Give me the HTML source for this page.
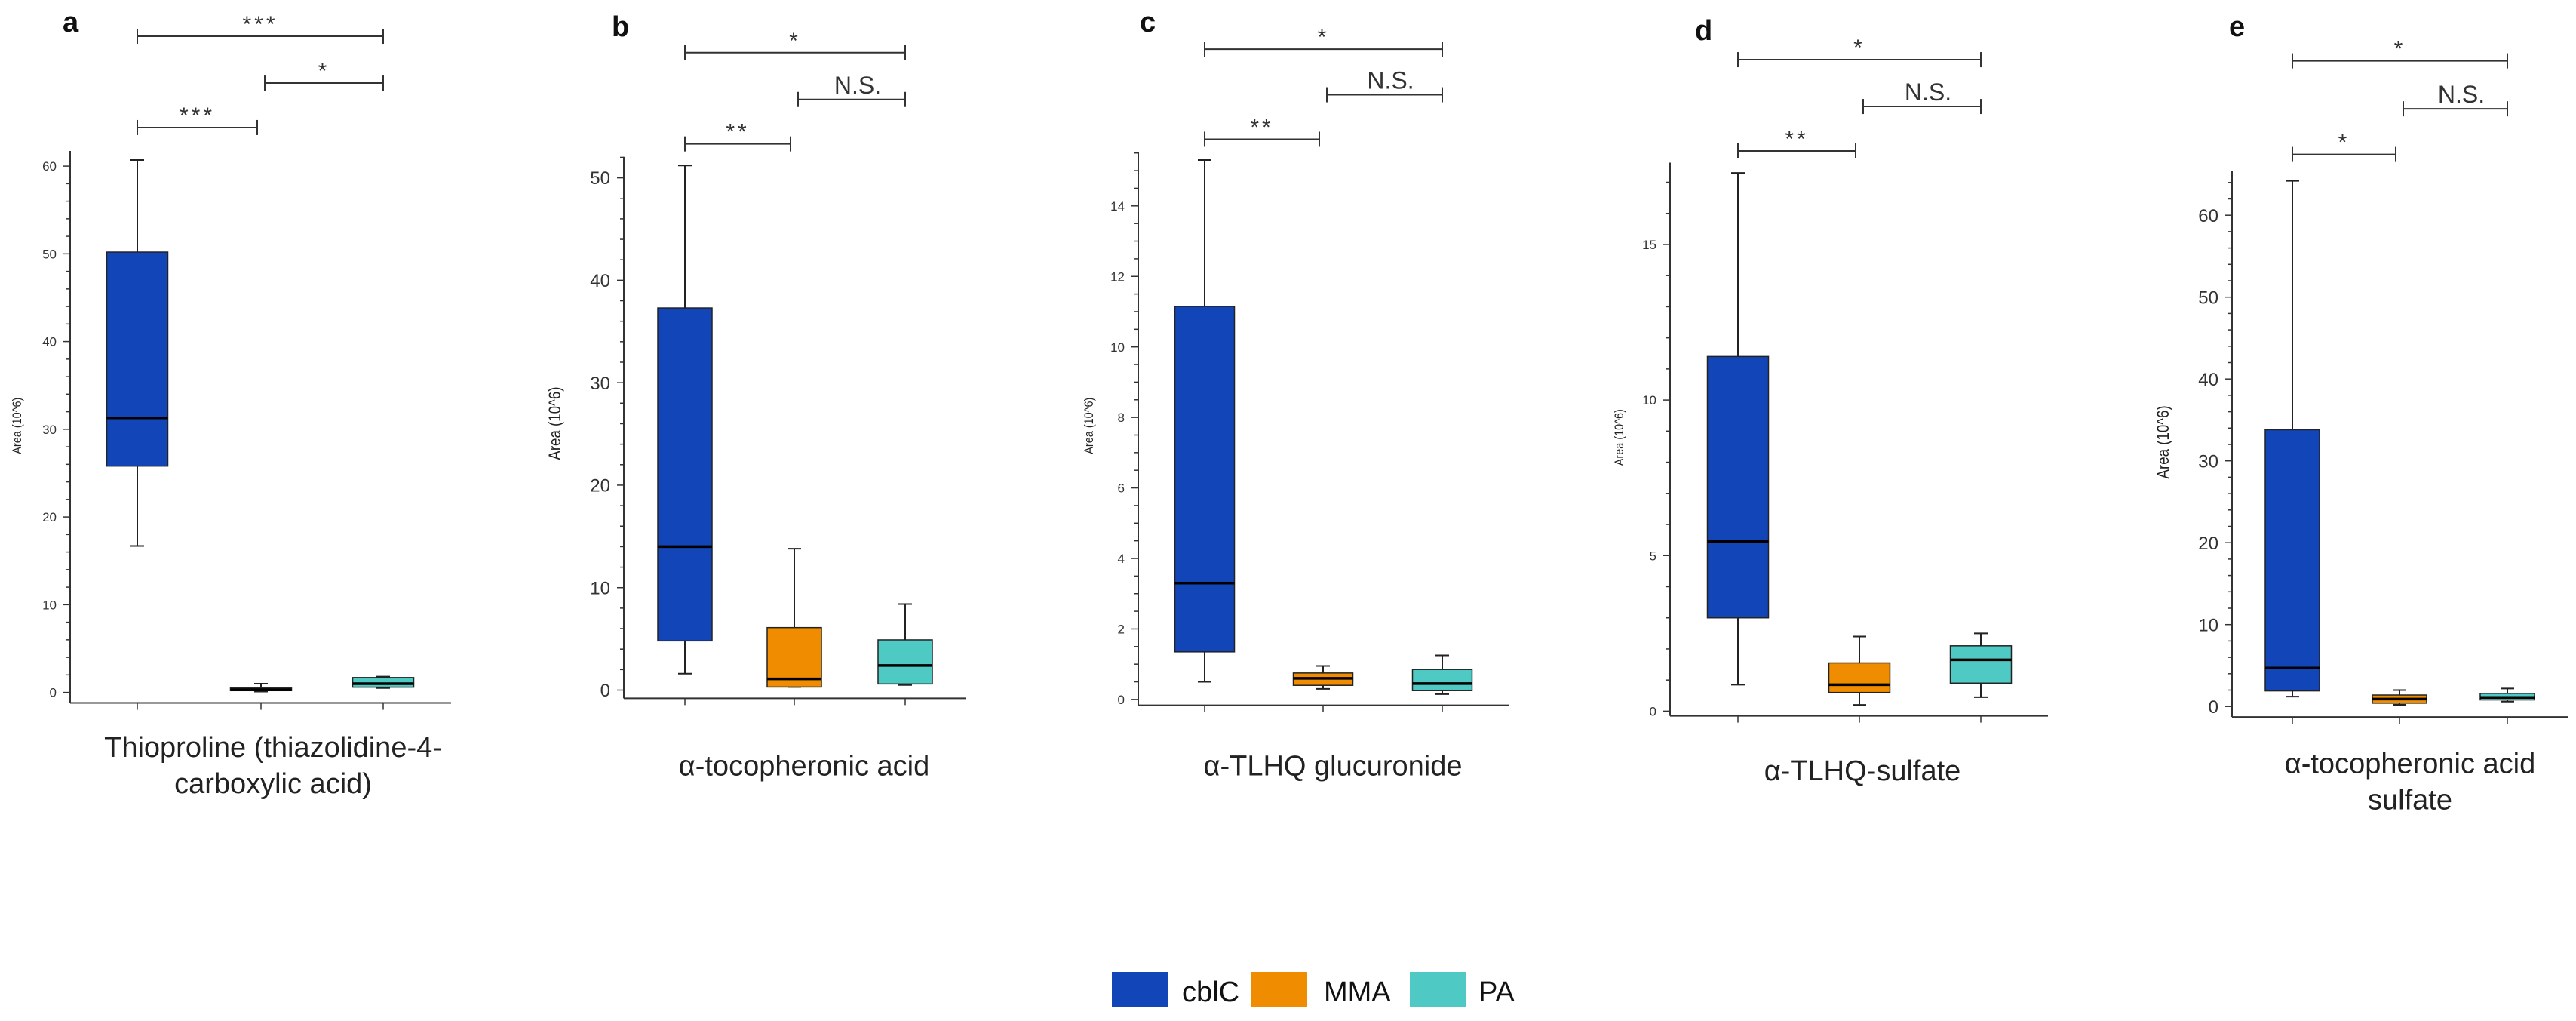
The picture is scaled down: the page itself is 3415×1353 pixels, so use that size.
<!DOCTYPE html>
<html><head><meta charset="utf-8"><style>
html,body{margin:0;padding:0;background:#fff;}
svg{display:block;font-family:"Liberation Sans",sans-serif;}
</style></head>
<body>
<svg id="chart" width="3415" height="1353" viewBox="0 0 3415 1353" xmlns="http://www.w3.org/2000/svg"></svg>
<script>
// data: [min, q1, median, q3, max]
const groups = ["cblC","MMA","PA"];
const colors = ["#1246b8","#f08c00","#4ec9c3"];
const a_cblC=[16.7,25.8,31.3,50.2,60.7], a_MMA=[0.1,0.2,0.3,0.5,1.0], a_PA=[0.5,0.6,1.0,1.7,1.8];
const b_cblC=[1.6,4.8,14,37.3,51.2], b_MMA=[0.3,0.3,1.1,6.1,13.8], b_PA=[0.5,0.6,2.4,4.9,8.4];
const c_cblC=[0.5,1.35,3.3,11.15,15.3], c_MMA=[0.3,0.4,0.6,0.75,0.95], c_PA=[0.15,0.25,0.45,0.85,1.25];
const d_cblC=[0.85,3.0,5.45,11.4,17.3], d_MMA=[0.2,0.6,0.85,1.55,2.4], d_PA=[0.45,0.9,1.65,2.1,2.5];
const e_cblC=[1.2,1.9,4.7,33.8,64.2], e_MMA=[0.2,0.4,0.9,1.4,2.0], e_PA=[0.6,0.8,1.1,1.6,2.2];
const a_ticks=[0,10,20,30,40,50,60], b_ticks=[0,10,20,30,40,50], c_ticks=[0,2,4,6,8,10,12,14], d_ticks=[0,5,10,15], e_ticks=[0,10,20,30,40,50,60];
const a_sig=["***","*","***"], b_sig=["*","N.S.","**"], c_sig=["*","N.S.","**"], d_sig=["*","N.S.","**"], e_sig=["*","N.S.","*"];

const S=1.55;
const panels=[
 {id:"a",data:[a_cblC,a_MMA,a_PA],ticks:a_ticks,sig:a_sig,minor:5,ax:93,top:129,bot:601,right:598,y0:592,ytop:142,vtop:60,cx:[182,346,508],bw:81,lab:[83,18],tf:17,yt:[28,364],yf:17,
  xl:["Thioproline (thiazolidine-4-","carboxylic acid)"],xlx:362,xly:638,br:[31,71,109]},
 {id:"b",data:[b_cblC,b_MMA,b_PA],ticks:b_ticks,sig:b_sig,minor:5,ax:827,top:134,bot:597,right:1280,y0:590,ytop:152,vtop:50,cx:[908,1053,1200],bw:72,lab:[811,22],tf:24,yt:[743,362],yf:22,
  xl:["α-tocopheronic acid"],xlx:1066,xly:654,br:[45,85,123]},
 {id:"c",data:[c_cblC,c_MMA,c_PA],ticks:c_ticks,sig:c_sig,minor:4,ax:1509,top:130,bot:603,right:2000,y0:598,ytop:176,vtop:14,cx:[1597,1754,1912],bw:79,lab:[1511,18],tf:17,yt:[1449,364],yf:17,
  xl:["α-TLHQ glucuronide"],xlx:1767,xly:654,br:[42,81,119]},
 {id:"d",data:[d_cblC,d_MMA,d_PA],ticks:d_ticks,sig:d_sig,minor:5,ax:2214,top:139,bot:612,right:2715,y0:608,ytop:209,vtop:15,cx:[2304,2465,2626],bw:81,lab:[2247,25],tf:17,yt:[2152,374],yf:17,
  xl:["α-TLHQ-sulfate"],xlx:2469,xly:658,br:[51,91,129]},
 {id:"e",data:[e_cblC,e_MMA,e_PA],ticks:e_ticks,sig:e_sig,minor:5,ax:2959,top:146,bot:613,right:3405,y0:604,ytop:184,vtop:60,cx:[3039,3181,3324],bw:72,lab:[2955,22],tf:24,yt:[2875,378],yf:22,
  xl:["α-tocopheronic acid","sulfate"],xlx:3195,xly:652,br:[52,93,132]}
];
const NS="http://www.w3.org/2000/svg";
const svg=document.getElementById("chart");
function mk(tag,attrs,parent,text){const e=document.createElementNS(NS,tag);for(const k in attrs)e.setAttribute(k,attrs[k]);if(text!==undefined)e.textContent=text;(parent||svg).appendChild(e);return e;}

panels.forEach(p=>{
 const top=p.top*S,bot=p.bot*S,y0=p.y0*S,ytop=p.ytop*S;
 const g=mk("g",{});
 
 
 const y=v=>y0-(v/p.vtop)*(y0-ytop);
 const lab=mk("text",{x:p.lab[0],y:p.lab[1]*S+14,"font-size":38,"font-weight":"bold",fill:"#111"},g,p.id);
 
 
 const ya=mk("line",{x1:p.ax,y1:top,x2:p.ax,y2:bot,stroke:"#333","stroke-width":2},g);
 
 
 const xa=mk("line",{x1:p.ax,y1:bot,x2:p.right,y2:bot,stroke:"#333","stroke-width":2},g);
 
 
 const step=p.ticks[1]-p.ticks[0];
 for(let v=0;y(v)>=top;v+=step/p.minor){
   const major=Math.abs(v/step-Math.round(v/step))<1e-6;
   mk("line",{x1:p.ax-(major?9:5),y1:y(v),x2:p.ax,y2:y(v),stroke:"#333","stroke-width":1.5},g);
 }
 p.ticks.forEach(t=>{
   const tl=mk("text",{x:p.ax-18,y:y(t)+p.tf*0.36,"font-size":p.tf,"text-anchor":"end",fill:"#333"},g,String(t));
   
   
 });
 p.cx.forEach(cx=>mk("line",{x1:cx,y1:bot,x2:cx,y2:bot+9,stroke:"#333","stroke-width":1.5},g));
 const yt=mk("text",{x:0,y:0,"font-size":p.yf,"text-anchor":"middle",fill:"#222",transform:`translate(${p.yt[0]},${p.yt[1]*S}) rotate(-90) scale(0.85,1)`},g,"Area (10^6)");
 
 
 p.data.forEach((d,i)=>{
   const cx=p.cx[i],w=p.bw;
   const bg=mk("g",{},g);
   
   
   mk("line",{x1:cx,y1:y(d[0]),x2:cx,y2:y(d[4]),stroke:"#222","stroke-width":2},bg);
   mk("line",{x1:cx-9,y1:y(d[0]),x2:cx+9,y2:y(d[0]),stroke:"#222","stroke-width":2},bg);
   mk("line",{x1:cx-9,y1:y(d[4]),x2:cx+9,y2:y(d[4]),stroke:"#222","stroke-width":2},bg);
   mk("rect",{x:cx-w/2,y:y(d[3]),width:w,height:Math.max(y(d[1])-y(d[3]),1),fill:colors[i],stroke:"#222","stroke-width":1.5},bg);
   mk("line",{x1:cx-w/2,y1:y(d[2]),x2:cx+w/2,y2:y(d[2]),stroke:"#000","stroke-width":3.5},bg);
 });
 const pairs=[[0,2],[1,2],[0,1]];
 pairs.forEach((pr,k)=>{
   const x1=p.cx[pr[0]]+(pr[0]===1?5:0),x2=p.cx[pr[1]]-(pr[1]===1?5:0),by=p.br[k]*S;
   const bk=mk("g",{},g);
   
   
   mk("line",{x1:x1,y1:by,x2:x2,y2:by,stroke:"#333","stroke-width":2},bk);
   mk("line",{x1:x1,y1:by-10,x2:x1,y2:by+10,stroke:"#333","stroke-width":2},bk);
   mk("line",{x1:x2,y1:by-10,x2:x2,y2:by+10,stroke:"#333","stroke-width":2},bk);
   const s=p.sig[k];
   const ns=s==="N.S.";
   mk("text",{x:(x1+x2)/2+(ns?8:0),y:ns?by-8:by-6,"font-size":ns?32:30,"text-anchor":"middle",fill:"#333","letter-spacing":ns?0:4},bk,s);
 });
 p.xl.forEach((t,k)=>{
   const xl=mk("text",{x:p.xlx,y:p.xly*S+14+k*48,"font-size":38,"text-anchor":"middle",fill:"#222"},g,t);
   
   
 });
});
const legX=[1474,1659,1869], legT=[1567,1755,1960];
groups.forEach((gname,i)=>{
 const lg=mk("g",{});
 
 
 mk("rect",{x:legX[i],y:1288,width:74,height:46,fill:colors[i]},lg);
 mk("text",{x:legT[i],y:1327,"font-size":38,fill:"#111"},lg,gname);
});
</script>
</body></html>
